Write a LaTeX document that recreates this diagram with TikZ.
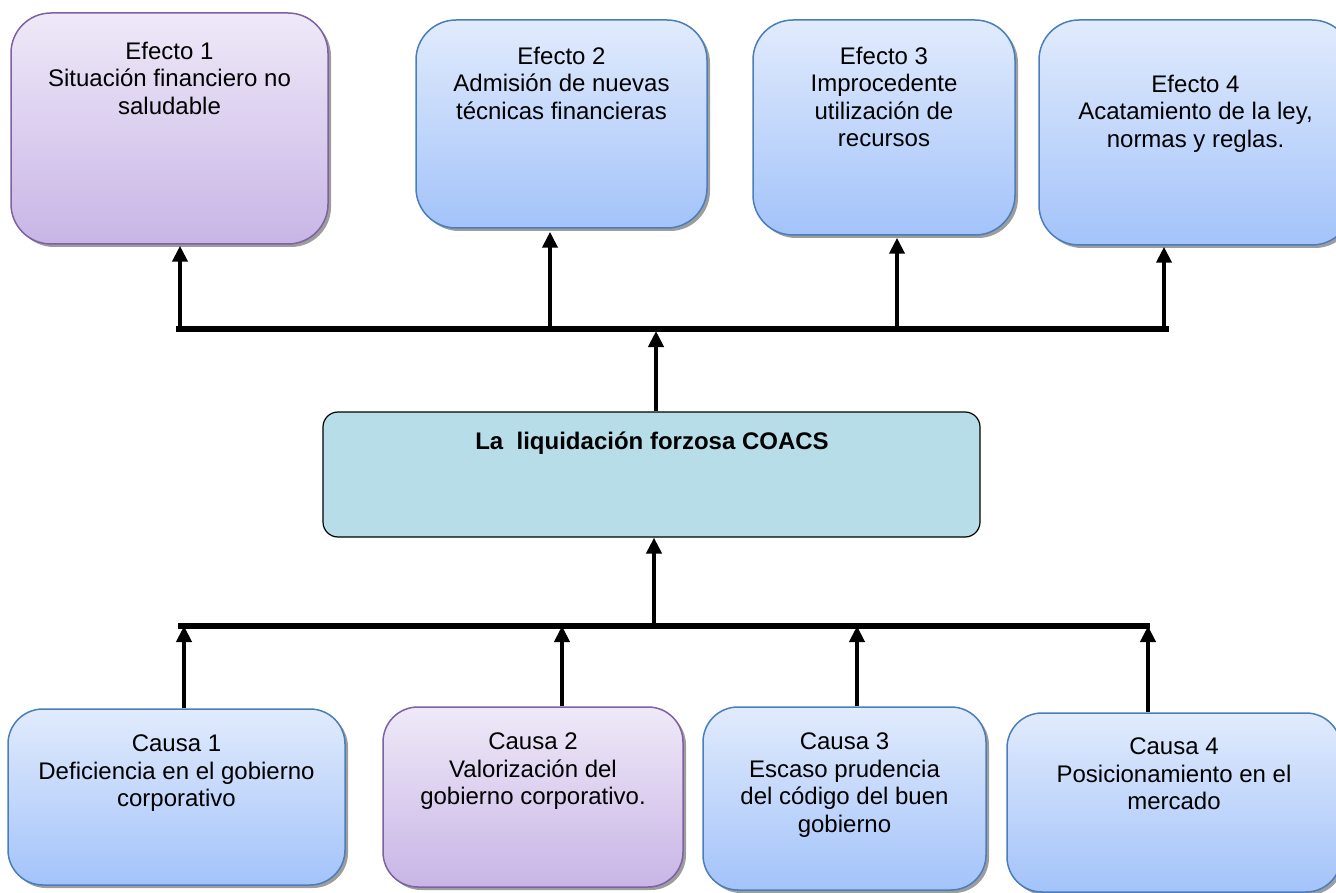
\documentclass[tikz,border=0pt]{standalone}
\usepackage{fontspec}
\setmainfont{Liberation Sans}
\usetikzlibrary{arrows.meta,shadows,calc}
\definecolor{bluetop}{HTML}{E1EBFC}
\definecolor{bluebot}{HTML}{A3C3FA}
\definecolor{blueline}{HTML}{4A7EBB}
\definecolor{purptop}{HTML}{EFE9F8}
\definecolor{purpbot}{HTML}{C8B5E6}
\definecolor{purpline}{HTML}{7E61A1}
\definecolor{centfill}{HTML}{B7DDE8}
\begin{document}
\begin{tikzpicture}[x=1pt,y=-1pt,
  boxbase/.style={draw, line width=1.5pt, inner sep=0pt,
    drop shadow={shadow xshift=3pt, shadow yshift=-3pt, fill=black!45, opacity=0.85}},
  bluebox/.style={boxbase, draw=blueline, top color=bluetop, bottom color=bluebot},
  purpbox/.style={boxbase, draw=purpline, top color=purptop, bottom color=purpbot},
  effbox/.style={rounded corners=40pt},
  cauBox/.style={rounded corners=35pt},
  txt/.style={inner sep=0pt, align=center, anchor=north, font=\fontsize{24}{27.6}\selectfont},
  arr/.style={line width=4pt, -{Triangle[width=15pt,length=16pt]}},
  bar/.style={line width=6pt, line cap=butt}
]
\useasboundingbox (0,0) rectangle (1336,893);

% Effect boxes
\node[purpbox, effbox, minimum width=317pt, minimum height=231pt] (e1) at (169.5,128.5) {};
\node[bluebox, effbox, minimum width=291pt, minimum height=208pt] (e2) at (561.5,124) {};
\node[bluebox, effbox, minimum width=262pt, minimum height=215pt] (e3) at (884,127.5) {};
\node[bluebox, effbox, minimum width=313pt, minimum height=225pt] (e4) at (1195.5,132.5) {};

\node[txt] (e1t) at (169.5,41.5) {Efecto 1\\Situación financiero no\\saludable};
\node[txt] (e2t) at (561.5,46.5) {Efecto 2\\Admisión de nuevas\\técnicas financieras};
\node[txt] (e3t) at (884,46.5) {Efecto 3\\Improcedente\\utilización de\\recursos};
\node[txt] (e4t) at (1195.5,74.5) {Efecto 4\\Acatamiento de la ley,\\normas y reglas.};

% Central box
\node[draw=black, line width=1.2pt, fill=centfill, rounded corners=15pt, inner sep=0pt,
      minimum width=657pt, minimum height=125pt] (c) at (651.5,474.5) {};
\node[inner sep=0pt, anchor=base, font=\fontsize{24}{27.6}\selectfont\bfseries] (ct) at (652,449) {La~~liquidación forzosa COACS};

% Cause boxes
\node[bluebox, cauBox, minimum width=337pt, minimum height=176pt] (k1) at (176.5,797) {};
\node[purpbox, cauBox, minimum width=300pt, minimum height=180pt] (k2) at (533,797) {};
\node[bluebox, cauBox, minimum width=283pt, minimum height=183pt] (k3) at (844.5,798.5) {};
\node[bluebox, cauBox, minimum width=334pt, minimum height=179pt] (k4) at (1174,802.5) {};

\node[txt] (k1t) at (176.5,734.5) {Causa 1\\Deficiencia en el gobierno\\corporativo};
\node[txt] (k2t) at (533,732.5) {Causa 2\\Valorización del\\gobierno corporativo.};
\node[txt] (k3t) at (844.5,732.5) {Causa 3\\Escaso prudencia\\del código del buen\\gobierno};
\node[txt] (k4t) at (1174,737.5) {Causa 4\\Posicionamiento en el\\mercado};

% Top bar and arrows
\coordinate (tb1) at (176,329);
\coordinate (tb2) at (1169,329);
\draw[bar] (tb1) -- (tb2);
\coordinate (ta1) at (180,329);
\coordinate (ta2) at (550,329);
\coordinate (ta3) at (897,329);
\coordinate (ta4) at (1164,329);
\draw[arr] (ta1) -- ($(ta1 |- e1.south)+(0,1)$);
\draw[arr] (ta2) -- ($(ta2 |- e2.south)+(0,3)$);
\draw[arr] (ta3) -- ($(ta3 |- e3.south)+(0,2)$);
\draw[arr] (ta4) -- ($(ta4 |- e4.south)+(0,1)$);

\coordinate (ca) at (656,331);
\draw[arr] (c.north -| ca) -- (ca);

% Bottom bar and arrows
\coordinate (bb1) at (178,626);
\coordinate (bb2) at (1150,626);
\draw[bar] (bb1) -- (bb2);
\coordinate (cb) at (654,626);
\draw[arr] (cb) -- (cb |- c.south);

\coordinate (ba1) at (184,626);
\coordinate (ba2) at (562,626);
\coordinate (ba3) at (857,626);
\coordinate (ba4) at (1148,626);
\draw[arr] (ba1 |- k1.north) -- (ba1);
\draw[arr] (ba2 |- k2.north) -- (ba2);
\draw[arr] (ba3 |- k3.north) -- (ba3);
\draw[arr] (ba4 |- k4.north) -- (ba4);
\end{tikzpicture}
\end{document}
